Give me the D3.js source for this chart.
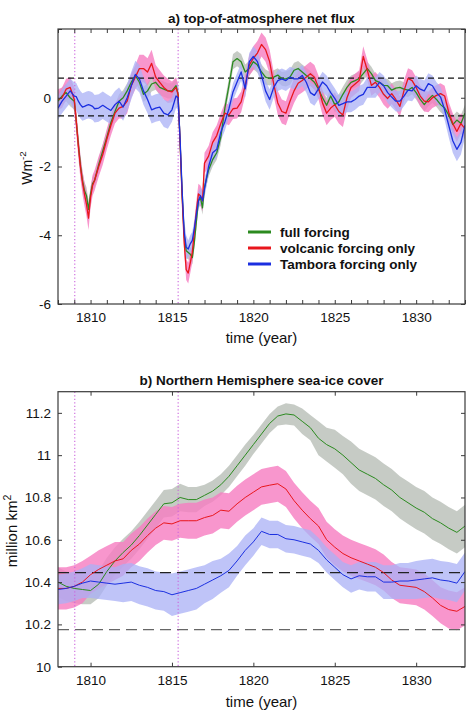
<!DOCTYPE html>
<html><head><meta charset="utf-8">
<script src="https://cdn.jsdelivr.net/npm/d3@7"></script>
<style>
html,body{margin:0;padding:0;background:#fff;}
svg{display:block;font-family:"Liberation Sans",Arial,Helvetica,sans-serif;}
</style></head>
<body><svg id="c" width="474" height="724"></svg>
<script>
// ---------- DATA ----------
const titleA = "a) top-of-atmosphere net flux";
const titleB = "b) Northern Hemisphere sea-ice cover";
const seriesNames = ["full forcing", "volcanic forcing only", "Tambora forcing only"];
const xLabel = "time (year)";
const yearLabels = [1810, 1815, 1820, 1825, 1830];
const fluxTicks = [-6, -4, -2, 0, 2];
const fluxTickLabels = ["-6", "-4", "-2", "0", ""];
const iceTicks = [10, 10.2, 10.4, 10.6, 10.8, 11, 11.2];
const iceTickLabels = ["10", "10.2", "10.4", "10.6", "10.8", "11", "11.2"];
const eruptions = [1809.03, 1815.38];
const fluxControl = [0.57, -0.53];
const iceControl = [10.445, 10.175];

const fluxYears = [1808,1808.25,1808.5,1808.75,
 1809,1809.125,1809.25,1809.375,1809.5,1809.625,1809.75,1809.875,
 1810,1810.125,1810.25,1810.5,1810.75,
 1811,1811.25,1811.5,1811.75,1812,1812.25,1812.5,1812.75,1813,1813.25,1813.5,1813.75,1814,1814.25,1814.5,1814.75,1815,
 1815.25,1815.375,1815.5,1815.625,1815.75,1815.875,1816,1816.125,1816.25,1816.375,1816.5,1816.625,1816.75,1816.875,
 1817,1817.25,1817.5,1817.75,1818,1818.25,1818.5,1818.75,1819,1819.25,1819.5,1819.75,1820,1820.25,1820.5,1820.75,
 1821,1821.25,1821.5,1821.75,1822,1822.25,1822.5,1822.75,1823,1823.25,1823.5,1823.75,1824,1824.25,1824.5,1824.75,
 1825,1825.25,1825.5,1825.75,1826,1826.25,1826.5,1826.75,1827,1827.25,1827.5,1827.75,1828,1828.25,1828.5,1828.75,
 1829,1829.25,1829.5,1829.75,1830,1830.25,1830.5,1830.75,1831,1831.25,1831.5,1831.75,1832,1832.25,1832.5,1832.75,1833];

const fluxFull = [-0.1,0.05,0.15,0.0,
 -0.1,-0.7,-1.35,-1.95,-2.4,-2.7,-2.85,-3.25,
 -2.8,-2.5,-2.4,-1.95,-1.55,
 -1.15,-0.72,-0.4,-0.1,0.0,0.2,0.45,0.65,0.45,0.1,0.2,0.4,0.45,0.3,0.25,0.2,0.2,
 0.35,0.1,-1.3,-2.8,-4.0,-4.45,-4.5,-4.55,-4.65,-4.2,-3.6,-3.0,-2.9,-3.2,
 -2.6,-2.1,-1.8,-1.6,-1.15,-0.3,0.35,1.05,1.14,1.05,0.75,0.85,1.05,0.95,0.75,0.6,
 0.56,0.6,0.66,0.55,0.55,0.6,0.8,0.85,0.75,0.65,0.56,0.45,0.25,0.0,-0.22,0.05,
 -0.2,-0.12,0.1,0.3,0.45,0.5,0.56,0.7,0.85,0.7,0.5,0.45,0.36,0.35,0.22,0.28,
 0.3,0.25,0.22,0.3,0.15,-0.05,-0.2,-0.05,0.07,-0.05,-0.2,-0.3,-0.5,-0.78,-0.65,-0.75,-0.45];

const fluxVolc = [-0.05,0.0,0.25,0.3,
 -0.05,-0.7,-1.4,-2.0,-2.45,-2.8,-3.1,-3.5,
 -2.9,-2.55,-2.4,-2.0,-1.65,
 -1.2,-0.8,-0.45,-0.3,-0.25,-0.1,0.35,0.6,0.85,0.85,0.75,1.0,0.6,0.45,0.3,0.2,0.17,
 0.3,0.1,-1.3,-2.9,-4.2,-5.0,-5.1,-4.8,-4.5,-3.9,-3.3,-2.8,-2.85,-3.0,
 -1.9,-1.7,-1.3,-1.1,-0.75,-0.45,-0.5,-0.32,-0.3,-0.12,0.36,0.95,1.15,1.3,1.55,1.4,
 1.05,0.4,-0.15,-0.4,-0.45,-0.1,0.2,0.42,0.5,0.6,0.7,0.6,0.3,-0.15,-0.45,-0.3,
 -0.2,-0.4,-0.5,0.0,0.3,0.4,0.5,1.2,0.8,0.36,0.45,0.3,0.1,-0.02,0.12,-0.05,
 -0.25,0.2,0.56,0.5,0.3,0.05,-0.1,-0.12,0.0,0.07,0.12,0.05,-0.42,-0.75,-0.98,-0.75,-0.9];

const fluxTamb = [-0.3,-0.1,0.05,0.2,
 0.05,0.03,-0.1,-0.2,-0.27,-0.25,-0.22,-0.2,
 -0.22,-0.25,-0.32,-0.3,-0.22,
 -0.3,-0.37,-0.2,-0.1,-0.27,0.0,0.35,0.68,0.55,0.2,-0.05,-0.35,-0.3,-0.27,-0.45,-0.5,-0.35,
 0.05,0.0,-1.2,-2.7,-3.9,-4.35,-4.4,-4.25,-4.15,-3.8,-3.4,-3.0,-2.85,-3.0,
 -2.65,-2.0,-1.6,-1.5,-1.0,-0.7,-0.32,0.17,0.46,0.75,0.26,1.05,1.2,1.05,0.66,0.2,
 -0.05,0.3,0.5,0.55,0.5,0.6,0.55,0.55,0.65,0.45,0.15,0.07,0.26,0.46,0.35,0.15,
 -0.02,-0.22,-0.17,-0.12,-0.12,-0.05,0.05,0.1,0.3,0.3,0.3,0.45,0.35,0.15,0.02,-0.1,
 -0.1,0.05,0.22,0.2,0.35,0.25,0.2,0.41,0.35,0.15,0.02,-0.35,-0.8,-1.25,-1.5,-1.3,-0.8];

// ensemble spread (half width), one value per calendar year 1808..1833
const fluxSpreadFull = [0.25,0.25,0.2,0.2,0.22,0.22,0.22,0.22,0.2,0.2,0.22,0.22,0.22,0.2,0.22,0.22,0.22,0.22,0.2,0.2,0.2,0.2,0.2,0.22,0.25,0.25];
const fluxSpreadVolc = [0.3,0.35,0.3,0.3,0.35,0.4,0.35,0.3,0.3,0.3,0.3,0.3,0.35,0.35,0.35,0.35,0.35,0.35,0.3,0.3,0.3,0.3,0.3,0.3,0.3,0.3];
const fluxSpreadTamb = [0.35,0.4,0.4,0.4,0.4,0.4,0.4,0.35,0.25,0.25,0.25,0.25,0.3,0.3,0.3,0.3,0.3,0.3,0.3,0.3,0.3,0.3,0.3,0.3,0.35,0.35];

const iceYears = [1808,1808.5,1809,1809.5,1810,1810.5,1811,1811.5,1812,1812.5,
 1813,1813.5,1814,1814.5,1815,1815.5,1816,1816.5,1817,1817.5,
 1818,1818.5,1819,1819.5,1820,1820.5,1821,1821.5,1822,1822.5,
 1823,1823.5,1824,1824.5,1825,1825.5,1826,1826.5,1827,1827.5,
 1828,1828.5,1829,1829.5,1830,1830.5,1831,1831.5,1832,1832.5,1833];
const iceFull = [10.40,10.38,10.37,10.365,10.36,10.39,10.45,10.50,10.54,10.575,
 10.62,10.67,10.72,10.77,10.775,10.80,10.79,10.79,10.81,10.83,
 10.86,10.9,10.95,11.0,11.05,11.1,11.15,11.185,11.195,11.19,
 11.16,11.13,11.08,11.05,11.03,11.0,10.965,10.93,10.91,10.89,
 10.86,10.835,10.8,10.775,10.75,10.73,10.7,10.68,10.655,10.635,10.665];
const iceVolc = [10.37,10.37,10.38,10.40,10.435,10.46,10.48,10.50,10.51,10.55,
 10.58,10.62,10.655,10.68,10.675,10.69,10.69,10.69,10.705,10.715,
 10.74,10.735,10.77,10.8,10.825,10.85,10.858,10.865,10.84,10.785,
 10.74,10.70,10.665,10.60,10.565,10.535,10.515,10.5,10.485,10.47,
 10.445,10.41,10.385,10.38,10.375,10.355,10.325,10.29,10.27,10.262,10.285];
const iceTamb = [10.365,10.37,10.38,10.395,10.405,10.40,10.395,10.39,10.395,10.40,
 10.385,10.375,10.36,10.355,10.34,10.35,10.36,10.37,10.39,10.41,
 10.43,10.455,10.5,10.55,10.59,10.64,10.625,10.625,10.605,10.60,
 10.59,10.58,10.55,10.505,10.47,10.435,10.415,10.43,10.425,10.425,
 10.40,10.40,10.405,10.405,10.41,10.415,10.42,10.41,10.405,10.395,10.45];
const iceSpreadFull = [0.07,0.07,0.065,0.065,0.065,0.065,0.065,0.065,0.06,0.05,0.05,0.05,0.045,0.045,0.05,0.06,0.08,0.09,0.1,0.1,0.1,0.1,0.1,0.1,0.1,0.1];
const iceSpreadVolc = [0.1,0.1,0.09,0.09,0.08,0.08,0.08,0.08,0.085,0.085,0.085,0.085,0.085,0.085,0.085,0.085,0.085,0.085,0.085,0.085,0.085,0.085,0.085,0.085,0.09,0.09];
const iceSpreadTamb = [0.07,0.07,0.08,0.08,0.09,0.09,0.09,0.1,0.1,0.09,0.08,0.07,0.065,0.065,0.065,0.065,0.06,0.06,0.065,0.07,0.08,0.085,0.09,0.09,0.09,0.09];

// ---------- STYLE ----------
const lineColors = ["#2b8a1f", "#e8161c", "#1b2fe0"];
const bandColors = ["#c3c8c2", "#f67cc0", "#aab0f6"];
const bandOpacity = [0.95, 0.8, 0.75];
const frameColor = "#3a3a3a";
const font = '"Liberation Sans",Arial,Helvetica,sans-serif';

const svg = d3.select("#c");
const L = 58, R = 465;
const x = d3.scaleLinear().domain([1808, 1833]).range([L, R]);

function spreadAt(arr, yr) { return arr[Math.min(arr.length - 1, Math.floor(yr - 1808))]; }

function panel(cfg) {
  const y = d3.scaleLinear().domain(cfg.domain).range([cfg.bottom, cfg.top]);
  const g = svg.append("g");
  const clipId = "clip" + cfg.id;
  svg.append("clipPath").attr("id", clipId).append("rect")
    .attr("x", L).attr("y", cfg.top).attr("width", R - L).attr("height", cfg.bottom - cfg.top);
  const plot = g.append("g").attr("clip-path", `url(#${clipId})`);

  // bands
  cfg.series.forEach((s, k) => {
    const pts = cfg.years.map((yr, i) => ({ yr, v: s[i], sp: spreadAt(cfg.spreads[k], yr) }));
    const area = d3.area().x(d => x(d.yr)).y0(d => y(d.v - d.sp)).y1(d => y(d.v + d.sp));
    plot.append("path").attr("d", area(pts)).attr("fill", bandColors[k]).attr("fill-opacity", bandOpacity[k]);
  });
  // control dashed lines
  cfg.control.forEach((c, k) => {
    plot.append("line").attr("x1", L).attr("x2", R).attr("y1", y(c)).attr("y2", y(c))
      .attr("stroke", cfg.controlColors[k]).attr("stroke-width", cfg.controlWidth)
      .attr("stroke-dasharray", cfg.controlDash);
  });
  // eruption lines
  eruptions.forEach(e => {
    plot.append("line").attr("x1", x(e)).attr("x2", x(e)).attr("y1", cfg.top).attr("y2", cfg.bottom)
      .attr("stroke", "#cc66dd").attr("stroke-width", 1.1).attr("stroke-dasharray", "1.2,2.3");
  });
  // lines
  cfg.series.forEach((s, k) => {
    const line = d3.line().x((d, i) => x(cfg.years[i])).y(d => y(d));
    plot.append("path").attr("d", line(s)).attr("fill", "none")
      .attr("stroke", lineColors[k]).attr("stroke-width", cfg.lineWidth).attr("stroke-linejoin", "round");
  });

  // axes (ticks inward)
  const xb = d3.axisBottom(x).tickValues(cfg.xTicks).tickSize(-4).tickPadding(cfg.xPad)
    .tickFormat(d => yearLabels.includes(d) ? String(d) : "");
  const xt = d3.axisTop(x).tickValues(cfg.xTicks).tickSize(-4).tickFormat("");
  const yl = d3.axisLeft(y).tickValues(cfg.yTicks).tickSize(-4).tickPadding(7)
    .tickFormat((d, i) => cfg.yTickLabels[i]);
  const yr = d3.axisRight(y).tickValues(cfg.yTicks).tickSize(-4).tickFormat("");
  [[xb, `translate(0,${cfg.bottom})`], [xt, `translate(0,${cfg.top})`], [yl, `translate(${L},0)`], [yr, `translate(${R},0)`]]
    .forEach(([ax, tr]) => {
      const a = g.append("g").attr("transform", tr).call(ax);
      a.select(".domain").remove();
      a.selectAll("line").attr("stroke", frameColor);
      a.selectAll("text").attr("font-family", font).attr("font-size", 13.5).attr("fill", "#111");
    });
  g.append("rect").attr("x", L).attr("y", cfg.top).attr("width", R - L).attr("height", cfg.bottom - cfg.top)
    .attr("fill", "none").attr("stroke", frameColor).attr("stroke-width", 1.2);

  // title
  g.append("text").attr("x", (L + R) / 2).attr("y", cfg.titleY).attr("text-anchor", "middle")
    .attr("font-family", font).attr("font-weight", "bold").attr("font-size", 13.5).attr("fill", "#111").text(cfg.title);
  // x label
  g.append("text").attr("x", (L + R) / 2).attr("y", cfg.xLabelY).attr("text-anchor", "middle")
    .attr("font-family", font).attr("font-size", 15).attr("fill", "#111").text(xLabel);
  // y label
  const t = g.append("text").attr("transform", `translate(${cfg.yLabelX},${cfg.yLabelY}) rotate(-90)`)
    .attr("text-anchor", "middle").attr("font-family", font).attr("font-size", cfg.yLabelSize).attr("fill", "#111");
  t.append("tspan").text(cfg.yLabel[0]);
  t.append("tspan").attr("dy", -6).attr("font-size", cfg.yLabelSize * 0.7).text(cfg.yLabel[1]);
  return { g, y };
}

const pa = panel({
  id: "a", top: 29, bottom: 304, domain: [-6, 2],
  years: fluxYears, series: [fluxFull, fluxVolc, fluxTamb],
  spreads: [fluxSpreadFull, fluxSpreadVolc, fluxSpreadTamb],
  control: fluxControl, controlColors: ["#111", "#111"], controlWidth: 1.2, controlDash: "6,4",
  lineWidth: 1.3,
  xTicks: d3.range(1808, 1834), xPad: 8,
  yTicks: fluxTicks, yTickLabels: fluxTickLabels,
  title: titleA, titleY: 22.5, xLabelY: 343,
  yLabel: ["Wm", "-2"], yLabelX: 32, yLabelY: 168, yLabelSize: 14
});

const pb = panel({
  id: "b", top: 391.7, bottom: 666.7, domain: [10, 11.3],
  years: iceYears, series: [iceFull, iceVolc, iceTamb],
  spreads: [iceSpreadFull, iceSpreadVolc, iceSpreadTamb],
  control: iceControl, controlColors: ["#222", "#666"], controlWidth: 1.3, controlDash: "11,6",
  lineWidth: 1.0,
  xTicks: yearLabels, xPad: 9,
  yTicks: iceTicks, yTickLabels: iceTickLabels,
  title: titleB, titleY: 385, xLabelY: 707,
  yLabel: ["million km", "2"], yLabelX: 17, yLabelY: 531, yLabelSize: 15
});

// legend
const leg = svg.append("g");
seriesNames.forEach((name, k) => {
  const yy = 232 + k * 16;
  leg.append("line").attr("x1", 248).attr("x2", 271).attr("y1", yy).attr("y2", yy)
    .attr("stroke", lineColors[k]).attr("stroke-width", 3);
  leg.append("text").attr("x", 280).attr("y", yy + 5).attr("font-family", font).attr("font-weight", "bold")
    .attr("font-size", 13.5).attr("fill", "#111").text(name);
});
</script></body></html>
